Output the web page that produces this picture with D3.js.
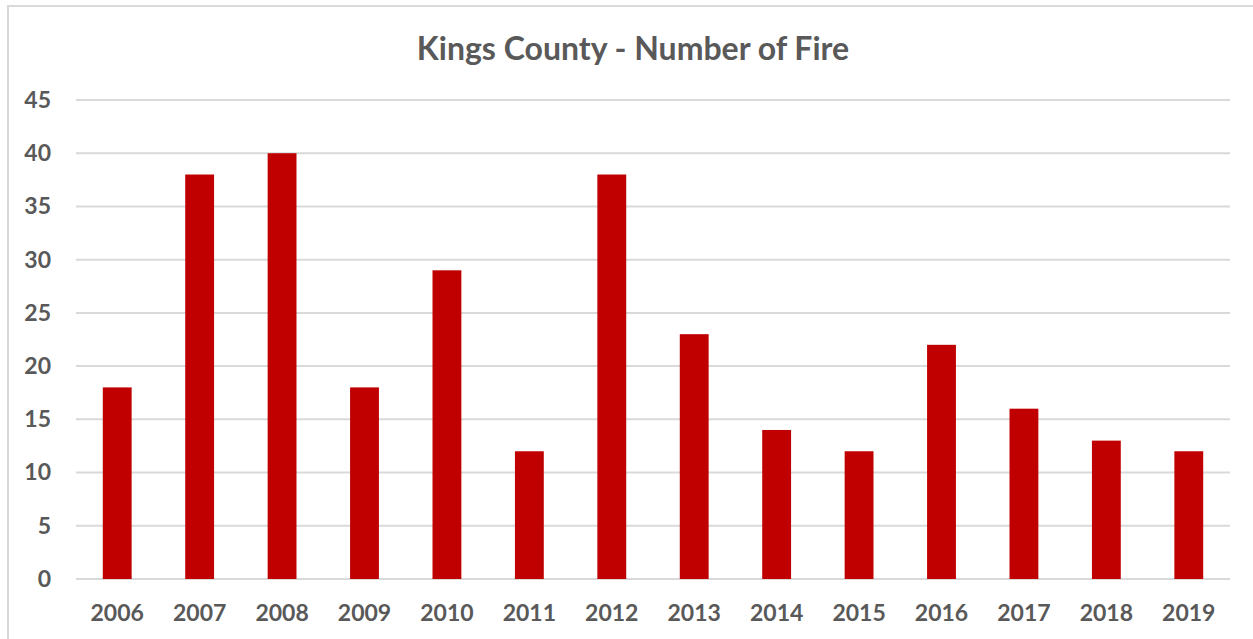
<!DOCTYPE html>
<html>
<head>
<meta charset="utf-8">
<script src="https://cdn.jsdelivr.net/npm/d3@7"></script>
<style>
  body { margin: 0; background: #ffffff; }
  text { font-family: Lato, "Open Sans", sans-serif; font-weight: bold; fill: #595959; }
</style>
</head>
<body>
<script>
var years = ["2006","2007","2008","2009","2010","2011","2012","2013","2014","2015","2016","2017","2018","2019"];
var fires = [18, 38, 40, 18, 29, 12, 38, 23, 14, 12, 22, 16, 13, 12];
var yTicks = [0, 5, 10, 15, 20, 25, 30, 35, 40, 45];

var W = 1253, H = 639;
var margin = {top: 100, right: 23, bottom: 60, left: 76},
    width = W - margin.left - margin.right,
    height = 579 - margin.top;

var svg = d3.select("body").append("svg")
    .attr("width", W)
    .attr("height", H);

// chart border
svg.append("rect")
    .attr("x", 8).attr("y", 6)
    .attr("width", W + 10).attr("height", H + 10)
    .attr("fill", "none")
    .attr("stroke", "#d9d9d9")
    .attr("stroke-width", 2);

svg.append("text")
    .attr("x", 633).attr("y", 60)
    .attr("text-anchor", "middle")
    .attr("font-size", 32)
    .text("Kings County - Number of Fire");

var g = svg.append("g")
    .attr("transform", "translate(" + margin.left + "," + margin.top + ")");

var x = d3.scaleBand()
    .domain(years)
    .range([0, 1154])
    .paddingInner(0.65)
    .paddingOuter(0.325);

var y = d3.scaleLinear()
    .domain([0, 45])
    .range([height, 0]);

// gridlines
g.append("g")
  .selectAll("line")
  .data(yTicks)
  .enter()
  .append("line")
    .attr("x1", 0).attr("x2", 1154)
    .attr("y1", function(d) { return y(d); })
    .attr("y2", function(d) { return y(d); })
    .attr("stroke", "#d9d9d9")
    .attr("stroke-width", 2);

var yAxis = g.append("g")
    .call(d3.axisLeft(y).tickValues(yTicks).tickSize(0).tickPadding(25));
yAxis.select(".domain").remove();
yAxis.selectAll("text").attr("font-size", 23).style("font-family", "Lato, 'Open Sans', sans-serif").attr("fill", "#595959");

var xAxis = g.append("g")
    .attr("transform", "translate(0," + height + ")")
    .call(d3.axisBottom(x).tickSize(0).tickPadding(26));
xAxis.select(".domain").remove();
xAxis.selectAll("text").attr("font-size", 23).style("font-family", "Lato, 'Open Sans', sans-serif").attr("fill", "#595959");

g.append("g")
  .selectAll("rect")
  .data(d3.zip(years, fires))
  .enter()
  .append("rect")
    .attr("x", function(d) { return x(d[0]); })
    .attr("y", function(d) { return y(d[1]); })
    .attr("width", x.bandwidth())
    .attr("height", function(d) { return height - y(d[1]); })
    .attr("fill", "#c00000");
</script>
</body>
</html>
